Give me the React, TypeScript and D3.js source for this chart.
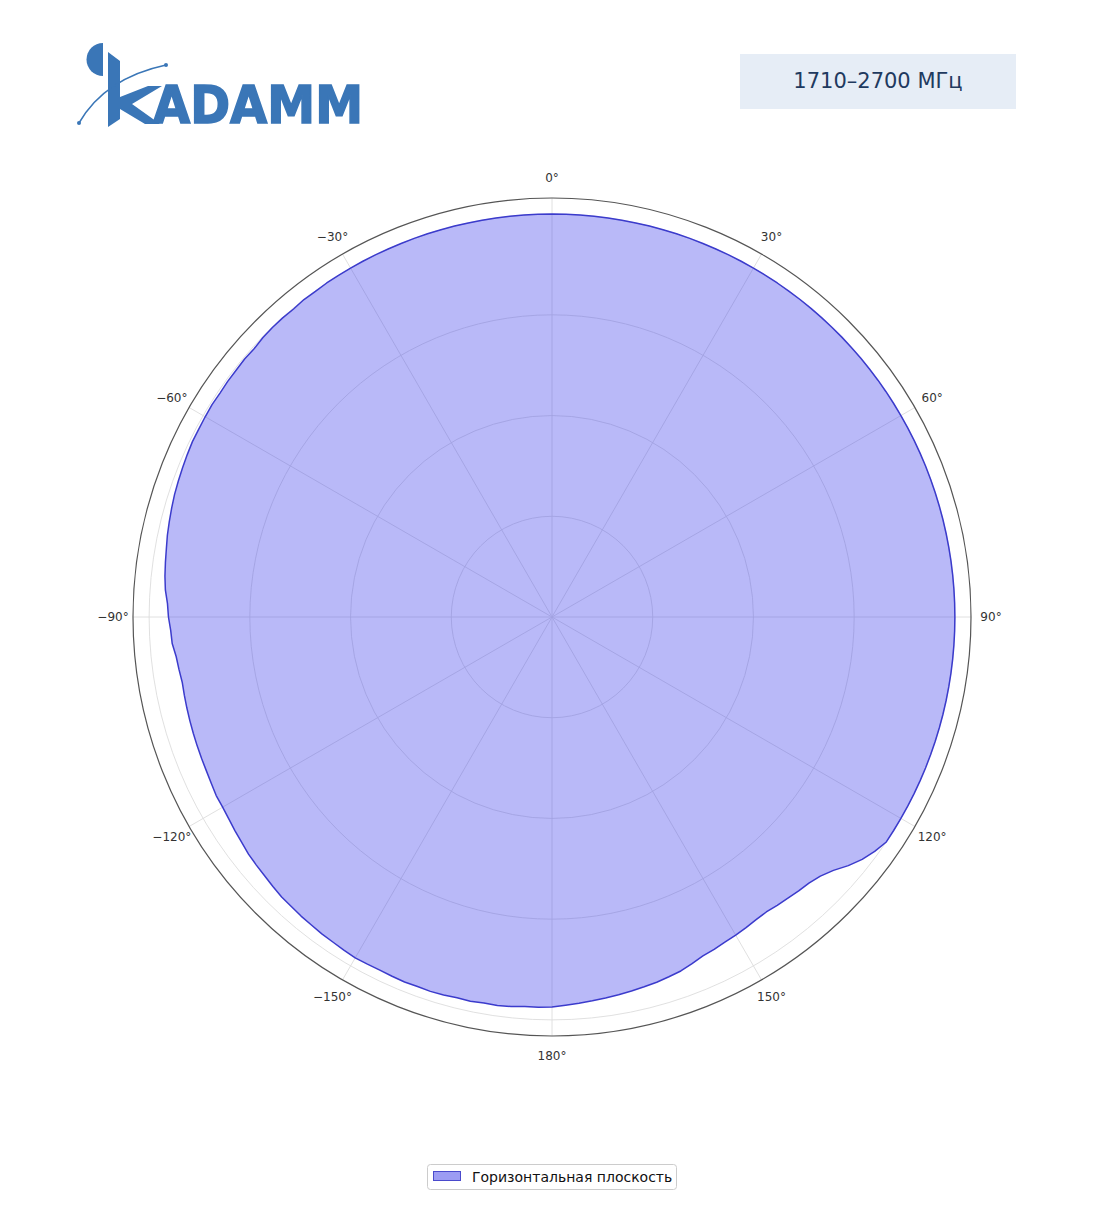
import React from "react";
import * as d3 from "d3";

// Angular sampling grid (degrees, clockwise from top)
const angles: number[] = d3.range(-180, 180, 2);

// Normalised horizontal-plane pattern, one value per angle above
const gainH: number[] = [
  0.968, 0.969, 0.969, 0.972, 0.974, 0.973, 0.975, 0.974, 0.976, 0.977,
  0.976, 0.977, 0.976, 0.975, 0.976, 0.977, 0.975, 0.973, 0.972, 0.970,
  0.969, 0.967, 0.966, 0.963, 0.960, 0.958, 0.956, 0.952, 0.949, 0.946,
  0.944, 0.944, 0.941, 0.939, 0.938, 0.937, 0.936, 0.935, 0.934, 0.933,
  0.932, 0.935, 0.938, 0.945, 0.947, 0.952, 0.955, 0.962, 0.966, 0.969,
  0.972, 0.976, 0.979, 0.982, 0.985, 0.987, 0.989, 0.991, 0.993, 0.993,
  0.994, 0.995, 0.994, 0.995, 0.995, 0.996, 0.995, 0.998, 0.999, 0.999,
  0.998, 1.0, 0.999, 1.0, 1.0, 1.0,
  // -28 .. 124
  1.0, 1.0, 1.0, 1.0, 1.0, 1.0, 1.0, 1.0, 1.0, 1.0, 1.0,
  1.0, 1.0, 1.0, 1.0, 1.0, 1.0, 1.0, 1.0, 1.0, 1.0, 1.0,
  1.0, 1.0, 1.0, 1.0, 1.0, 1.0, 1.0, 1.0, 1.0, 1.0, 1.0,
  1.0, 1.0, 1.0, 1.0, 1.0, 1.0, 1.0, 1.0, 1.0, 1.0, 1.0,
  1.0, 1.0, 1.0, 1.0, 1.0, 1.0, 1.0, 1.0, 1.0, 1.0, 1.0,
  1.0, 1.0, 1.0, 1.0, 1.0, 1.0, 1.0, 1.0, 1.0, 1.0, 1.0,
  1.0, 1.0, 1.0, 1.0, 1.0, 1.0, 1.0, 1.0, 1.0, 1.0, 1.0,
  // 126 .. 178
  0.99, 0.977, 0.96, 0.94, 0.926, 0.918, 0.915, 0.911, 0.908, 0.905,
  0.906, 0.909, 0.912, 0.914, 0.918, 0.921, 0.928, 0.935, 0.939, 0.943,
  0.946, 0.949, 0.952, 0.955, 0.958, 0.961, 0.964,
];

const angularTicks: number[] = [0, 30, 60, 90, 120, 150, 180, -150, -120, -90, -60, -30];
const radialTicks: number[] = [0.25, 0.5, 0.75, 1.0];
const radialMax = 1.04;

const titleText = "1710–2700 МГц";
const legendLabel = "Горизонтальная плоскость";
const logoText = "ADAMM";

const W = 1104;
const H = 1211;
const cx = 552;
const cy = 617;
const R = 419;
const FONT = "DejaVu Sans, sans-serif";
const LOGO = "#3a76b7";

function fmtDeg(a: number) {
  return (a < 0 ? "\u2212" + Math.abs(a) : String(a)) + "°";
}

export default function App() {
  const r = d3.scaleLinear().domain([0, radialMax]).range([0, R]);
  const data = angles.map((a, i) => ({ a, v: gainH[i] }));
  const area = d3
    .lineRadial<{ a: number; v: number }>()
    .angle((d) => (d.a * Math.PI) / 180)
    .radius((d) => r(d.v))
    .curve(d3.curveLinearClosed);
  const pathD = area(data) || "";

  return (
    <svg
      width={W}
      height={H}
      style={{ position: "absolute", left: 0, top: 0, background: "#fff" }}
      fontFamily={FONT}
    >
      {/* Logo */}
      <g>
        <path d="M103,43 A16.5,16.5 0 0 0 103,76 Z" fill={LOGO} />
        <path
          d="M108,52 L120,61 L120,97 L148,86 L162,86 L132,104 L160,124 L145,124 L120,109 L120,119 L108,127 Z"
          fill={LOGO}
        />
        <path d="M79,123 Q105,78 166,65" fill="none" stroke={LOGO} strokeWidth={1.5} />
        <circle cx={79} cy={123} r={2} fill={LOGO} />
        <circle cx={166} cy={65} r={2} fill={LOGO} />
        <text
          x={153}
          y={123}
          fontSize={51}
          fontWeight="bold"
          fill={LOGO}
          stroke={LOGO}
          strokeWidth={1.6}
          strokeLinejoin="miter"
          textLength={210}
          lengthAdjust="spacingAndGlyphs"
        >
          {logoText}
        </text>
      </g>

      {/* Title box */}
      <rect x={740} y={54} width={276} height={55} fill="#e6edf6" />
      <text
        x={878}
        y={81}
        fontSize={21}
        fill="#1f3a5f"
        textAnchor="middle"
        dominantBaseline="central"
      >
        {titleText}
      </text>

      {/* Polar chart */}
      <g transform={`translate(${cx},${cy})`}>
        {radialTicks.map((t) => (
          <circle key={t} r={r(t)} fill="none" stroke="#dcdcdc" strokeWidth={0.9} />
        ))}
        {angularTicks.map((a) => {
          const rad = (a * Math.PI) / 180;
          return (
            <line
              key={a}
              x1={0}
              y1={0}
              x2={R * Math.sin(rad)}
              y2={-R * Math.cos(rad)}
              stroke="#dcdcdc"
              strokeWidth={0.9}
            />
          );
        })}
        <path d={pathD} fill="rgb(60,60,235)" fillOpacity={0.36} stroke="none" />
        <path d={pathD} fill="none" stroke="#3b3bcc" strokeWidth={1.5} strokeLinejoin="round" />
        <circle r={R} fill="none" stroke="#555" strokeWidth={1.2} />
        {angularTicks.map((a) => {
          const rad = (a * Math.PI) / 180;
          const lr = R + 20;
          return (
            <text
              key={"l" + a}
              x={lr * Math.sin(rad)}
              y={-lr * Math.cos(rad)}
              fontSize={12}
              fill="#333"
              textAnchor="middle"
              dominantBaseline="central"
            >
              {fmtDeg(a)}
            </text>
          );
        })}
      </g>

      {/* Legend */}
      <g>
        <rect x={427.5} y={1164.5} width={249} height={25} rx={3} fill="#fff" stroke="#cccccc" />
        <rect x={433.5} y={1171.5} width={27} height={9} fill="rgb(90,90,235)" fillOpacity={0.6} stroke="#4a4acc" />
        <text x={472} y={1177} fontSize={14} fill="#111" dominantBaseline="central">
          {legendLabel}
        </text>
      </g>
    </svg>
  );
}
